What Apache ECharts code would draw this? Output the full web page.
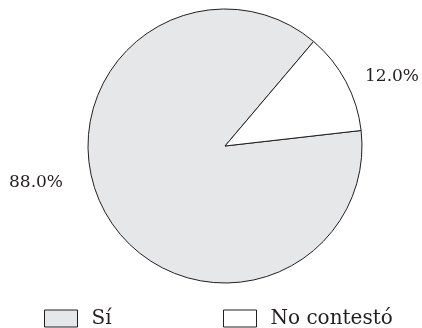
<!DOCTYPE html>
<html>
<head>
<meta charset="utf-8">
<script src="https://cdn.jsdelivr.net/npm/echarts@6/dist/echarts.min.js"></script>
<style>
  html, body { margin: 0; padding: 0; background: #fff; }
  #chart { width: 422px; height: 328px; }
</style>
</head>
<body>
<div id="chart"></div>
<script>
// Survey answers, in percent
const categories = ['Sí', 'No contestó'];
const shares = [88.0, 12.0];
const fills = ['#e6e7e8', '#ffffff'];

const ink = '#231f20';
const serif = '"DejaVu Serif", "Liberation Serif", serif';

// Where each percentage label sits (centre of the text, px)
const labelSpots = [[36, 183], [392, 77]];

const chart = echarts.init(document.getElementById('chart'), null, { renderer: 'canvas' });

const legendFor = (name, left) => ({
  data: [name],
  left: left,
  top: 307.5,
  padding: 0,
  icon: 'rect',
  itemWidth: 33,
  itemHeight: 17,
  itemStyle: { borderColor: ink, borderWidth: 1 },
  selectedMode: false,
  textStyle: {
    fontFamily: serif, fontSize: 20, lineHeight: 17, color: ink,
    padding: [5, 0, 0, 9]
  }
});

chart.setOption({
  animation: false,
  backgroundColor: '#ffffff',
  legend: [legendFor(categories[0], 44), legendFor(categories[1], 223)],
  series: [{
    type: 'pie',
    center: [225, 146],
    radius: 137,
    startAngle: 6.5,
    clockwise: true,
    silent: true,
    itemStyle: { borderColor: ink, borderWidth: 1 },
    label: {
      show: true,
      position: 'inside',
      formatter: p => p.value.toFixed(1) + '%',
      fontFamily: serif,
      fontSize: 17,
      color: ink
    },
    labelLine: { show: false },
    labelLayout: p => ({
      x: labelSpots[p.dataIndex][0],
      y: labelSpots[p.dataIndex][1],
      align: 'center',
      verticalAlign: 'middle'
    }),
    data: categories.map((c, i) => ({
      name: c,
      value: shares[i],
      itemStyle: { color: fills[i] }
    }))
  }]
});
</script>
</body>
</html>
